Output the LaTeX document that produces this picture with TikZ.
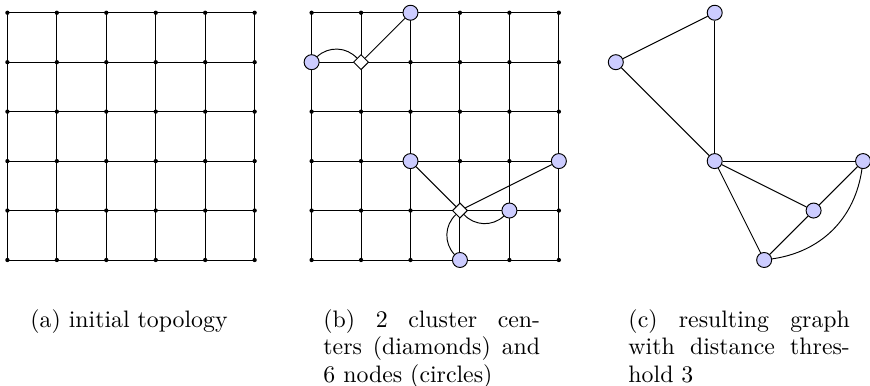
\documentclass[tikz,border=0pt]{standalone}
\usetikzlibrary{shapes.geometric}
\definecolor{nodefill}{RGB}{204,204,255}
\begin{document}
\begin{tikzpicture}[x=0.42pt,y=0.42pt,
  gridline/.style={line width=0.4pt},
  vnode/.style={circle,draw,fill=nodefill,inner sep=0pt,minimum size=6.3pt,line width=0.4pt},
  cnode/.style={diamond,draw,fill=white,inner sep=0pt,minimum size=6.4pt,line width=0.4pt},
  edge/.style={line width=0.4pt},
  capfont/.style={font=\fontsize{10pt}{11.5pt}\selectfont},
  captext/.style={capfont,anchor=north west,inner sep=0pt,align=justify}]
\useasboundingbox (0,0) rectangle (870,386);
\def\g{49.45}
% grid coordinates
\foreach \i in {0,...,5}{
  \foreach \j in {0,...,5}{
    \coordinate (a-\i-\j) at (7.4+\i*\g, 126+\j*\g);
    \coordinate (b-\i-\j) at (311.6+\i*\g, 126+\j*\g);
    \coordinate (c-\i-\j) at (615.8+\i*\g, 126+\j*\g);
  }
}
% panel (a) and (b) grids
\foreach \p in {a,b}{
  \foreach \k in {0,...,5}{
    \draw[gridline] (\p-\k-0) -- (\p-\k-5);
    \draw[gridline] (\p-0-\k) -- (\p-5-\k);
  }
  \foreach \i in {0,...,5}{
    \foreach \j in {0,...,5}{
      \fill (\p-\i-\j) circle[radius=0.9pt];
    }
  }
}
% panel (b) nodes
\node[vnode] (b1) at (b-2-5) {};
\node[vnode] (b2) at (b-0-4) {};
\node[cnode] (d1) at (b-1-4) {};
\node[vnode] (b3) at (b-2-2) {};
\node[vnode] (b4) at (b-5-2) {};
\node[cnode] (d2) at (b-3-1) {};
\node[vnode] (b5) at (b-4-1) {};
\node[vnode] (b6) at (b-3-0) {};
\draw[edge] (d1) -- (b1);
\draw[edge] (b2) to[bend left=45] (d1);
\draw[edge] (d2) -- (b3);
\draw[edge] (d2) -- (b4);
\draw[edge] (d2) to[bend right=45] (b5);
\draw[edge] (d2) to[bend right=45] (b6);
% panel (c)
\node[vnode] (c1) at (c-2-5) {};
\node[vnode] (c2) at (c-0-4) {};
\node[vnode] (c3) at (c-2-2) {};
\node[vnode] (c4) at (c-5-2) {};
\node[vnode] (c5) at (c-4-1) {};
\node[vnode] (c6) at (c-3-0) {};
\draw[edge] (c1) -- (c2);
\draw[edge] (c1) -- (c3);
\draw[edge] (c2) -- (c3);
\draw[edge] (c3) -- (c4);
\draw[edge] (c3) -- (c5);
\draw[edge] (c3) -- (c6);
\draw[edge] (c5) -- (c4);
\draw[edge] (c5) -- (c6);
\draw[edge] (c6) to[bend right=37] (c4);
% captions
\node[capfont,anchor=north west,inner sep=0pt] (capa) at (30,77) {(a) initial topology};
\node[captext,text width=91pt] (capb) at (323,77) {(b) 2 cluster cen-\linebreak ters (diamonds) and\linebreak 6 nodes (circles)};
\node[captext,text width=93pt] (capc) at (628,77) {(c) resulting graph\linebreak with distance thres-\linebreak hold 3};
\end{tikzpicture}
\end{document}
